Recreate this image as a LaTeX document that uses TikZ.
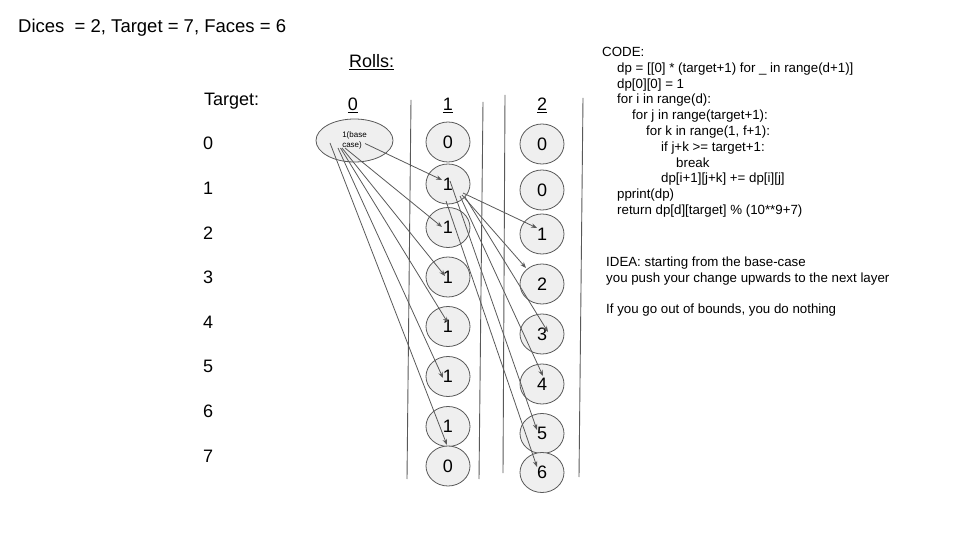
\documentclass[tikz,border=0pt]{standalone}
\usepackage{fontspec}
\setmainfont{Liberation Sans}
\usetikzlibrary{arrows.meta,shapes.geometric}
\definecolor{linegray}{HTML}{595959}
\definecolor{cellfill}{HTML}{EFEFEF}

\begin{document}
\begin{tikzpicture}[x=1bp, y=-1bp,
    cell/.style={ellipse, draw=linegray, fill=cellfill, line width=0.8bp,
        minimum width=44bp, minimum height=40bp, inner sep=0pt,
        font=\fontsize{18bp}{20bp}\selectfont},
    roll/.style={draw=linegray, line width=0.8bp, -{Stealth[length=6bp,width=4.5bp]}},
    divider/.style={draw=linegray, line width=0.9bp},
    big/.style={font=\fontsize{18bp}{21bp}\selectfont, inner sep=0pt},
    small/.style={font=\fontsize{13.3bp}{15.8bp}\selectfont, inner sep=0pt, align=left}]
    \useasboundingbox (0,0) rectangle (960,540);

    \node[big, font=\fontsize{18.5bp}{21bp}\selectfont, anchor=base west] (title) at (18,33) {Dices\ \ = 2, Target = 7, Faces = 6};
    \node[big, anchor=base west] (rolls) at (349,67.5) {\underline{Rolls:}};
    \node[big, anchor=base west] (target) at (204,106) {Target:};

    \node[big, anchor=base] (h0) at (353,111) {\underline{0}};
    \node[big, anchor=base] (h1) at (448,111) {\underline{1}};
    \node[big, anchor=base] (h2) at (542,111) {\underline{2}};

    \node[big, anchor=base west] (t0) at (203,150) {0};
    \node[big, anchor=base west] (t1) at (203,194.6) {1};
    \node[big, anchor=base west] (t2) at (203,239.2) {2};
    \node[big, anchor=base west] (t3) at (203,283.8) {3};
    \node[big, anchor=base west] (t4) at (203,328.4) {4};
    \node[big, anchor=base west] (t5) at (203,373) {5};
    \node[big, anchor=base west] (t6) at (203,417.6) {6};
    \node[big, anchor=base west] (t7) at (203,462.2) {7};

    % column dividers
    \draw[divider] (411,100) -- (407,479);
    \draw[divider] (483,102) -- (479,479);
    \draw[divider] (505,95) -- (503,473);
    \draw[divider] (583,98) -- (579,477);

    \node[cell, minimum width=77bp, minimum height=43bp, align=left,
        font=\fontsize{8bp}{10.5bp}\selectfont] (base) at (354.5,140.5) {1(base\\case)};

    \node[cell] (a0) at (448,142) {0};
    \node[cell] (a1) at (448,184) {1};
    \node[cell] (a2) at (448,227.5) {1};
    \node[cell] (a3) at (448,277) {1};
    \node[cell] (a4) at (448,326.5) {1};
    \node[cell] (a5) at (448,376.5) {1};
    \node[cell] (a6) at (448,426.5) {1};
    \node[cell] (a7) at (448,466) {0};

    \node[cell] (b0) at (542,144) {0};
    \node[cell] (b1) at (542,190) {0};
    \node[cell] (b2) at (542,234) {1};
    \node[cell] (b3) at (542,284) {2};
    \node[cell] (b4) at (542,334) {3};
    \node[cell] (b5) at (542,384) {4};
    \node[cell] (b6) at (542,433.5) {5};
    \node[cell] (b7) at (542,472.5) {6};

    % first roll
    \draw[roll] ([shift={(10.5,3)}]base.center) -- ([shift={(-6,-4)}]a1.center);
    \draw[roll] ([shift={(-9.5,7.5)}]base.center) -- ([shift={(-6,-0.5)}]a2.center);
    \draw[roll] ([shift={(-12.5,7.5)}]base.center) -- ([shift={(-3,-1)}]a3.center);
    \draw[roll] ([shift={(-14,7.5)}]base.center) -- ([shift={(0,-3.5)}]a4.center);
    \draw[roll] ([shift={(-16.5,7.5)}]base.center) -- ([shift={(-5,1.5)}]a5.center);
    \draw[roll] ([shift={(-24.5,2.5)}]base.center) -- ([shift={(-1,18.5)}]a6.center);

    % second roll
    \draw[roll] ([shift={(15,9)}]a1.center) -- ([shift={(-5,-6)}]b2.center);
    \draw[roll] ([shift={(14,11)}]a1.center) -- ([shift={(-16,-16)}]b3.center);
    \draw[roll] ([shift={(17,13)}]a1.center) -- ([shift={(6,-2)}]b4.center);
    \draw[roll] ([shift={(12,12)}]a1.center) -- ([shift={(1,-8)}]b5.center);
    \draw[roll] ([shift={(2,-3)}]a1.center) -- ([shift={(-5,-3.5)}]b6.center);
    \draw[roll] ([shift={(-2,17)}]a1.center) -- ([shift={(-5,-5.5)}]b7.center);

    \node[small, anchor=north west] (code) at (602,47) {CODE:\\
        \hspace*{15bp}dp = [[0] * (target+1) for \_ in range(d+1)]\\
        \hspace*{15bp}dp[0][0] = 1\\
        \hspace*{15bp}for i in range(d):\\
        \hspace*{30bp}for j in range(target+1):\\
        \hspace*{44bp}for k in range(1, f+1):\\
        \hspace*{59bp}if j+k >= target+1:\\
        \hspace*{74bp}break\\
        \hspace*{59bp}dp[i+1][j+k] += dp[i][j]\\
        \hspace*{15bp}pprint(dp)\\
        \hspace*{15bp}return dp[d][target] \% (10**9+7)};

    \node[small, anchor=north west] (idea) at (606,257) {IDEA: starting from the base-case\\
        you push your change upwards to the next layer};
    \node[small, anchor=north west] (bounds) at (606,304) {If you go out of bounds, you do nothing};
\end{tikzpicture}
\end{document}
